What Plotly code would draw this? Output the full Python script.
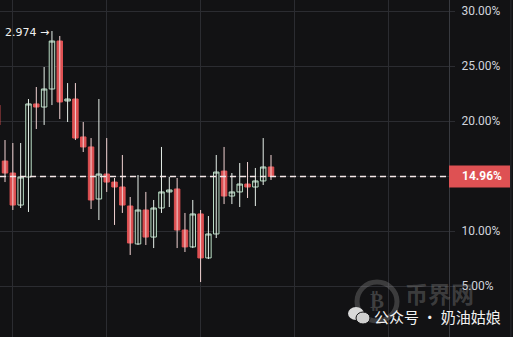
import plotly.graph_objects as go

# ---- data ----
x_idx = list(range(36))
open_ = [21.45, 16.36, 15.27, 12.36, 14.91, 21.55, 21.27, 22.91, 27.27, 21.82,
         22.00, 18.55, 17.64, 12.91, 15.18, 14.45, 14.00, 12.27, 8.82, 11.91,
         9.45, 12.09, 13.55, 13.82, 10.09, 8.55, 11.55, 7.55, 9.73, 15.45,
         13.18, 13.55, 14.27, 14.00, 14.55, 15.82]
high = [21.80, 18.27, 18.00, 18.00, 22.00, 23.09, 24.91, 28.18, 27.73, 23.45,
        23.45, 19.91, 18.45, 22.00, 18.45, 14.82, 16.91, 13.09, 15.09, 13.55,
        12.82, 17.64, 14.91, 14.82, 11.64, 12.82, 11.91, 11.36, 16.91, 17.64,
        15.27, 16.18, 16.27, 15.73, 18.45, 16.91]
low = [19.30, 14.45, 11.91, 12.09, 11.73, 19.27, 19.64, 21.45, 20.18, 19.91,
       18.27, 17.18, 12.00, 11.00, 13.55, 10.55, 11.64, 7.82, 8.73, 8.73,
       8.45, 11.64, 12.18, 8.45, 8.09, 8.45, 5.36, 7.45, 9.36, 12.45,
       12.45, 12.18, 13.00, 12.27, 14.18, 14.64]
close = [19.64, 15.27, 12.36, 14.91, 21.55, 21.27, 22.91, 27.27, 21.73, 22.00,
         18.45, 17.64, 12.82, 15.18, 14.45, 14.00, 12.36, 8.91, 11.91, 9.45,
         12.09, 13.55, 13.73, 10.09, 8.55, 11.55, 7.55, 9.73, 15.36, 13.18,
         13.55, 14.27, 14.00, 14.55, 15.82, 14.96]
y_ticks = [0, 5, 10, 15, 20, 25, 30]
peak_label = "2.974 →"
peak_idx = 7
wm_account = "公众号 · 奶油姑娘"
wm_site = "币界网"
wm_symbol = "₿"

# ---- styles ----
BG = "#121214"
GRID = "#2b2c31"
AXLINE = "#383a40"
RED = "#de5153"
GREEN_LINE = "#b9dcc5"
HOLLOW = "#131715"
TICKCOL = "#d1d4dc"
X_RANGE = [0.36, 57.75]
Y_RANGE = [0.364, 31.0]

last_price = close[-1]
body_hi = [max(o, c) for o, c in zip(open_, close)]
body_lo = [min(o, c) for o, c in zip(open_, close)]

fig = go.Figure()
# last-price dashed line (below candles)
fig.add_trace(go.Scatter(
    x=X_RANGE, y=[last_price, last_price], mode="lines",
    line=dict(color="#f4e6e6", width=1.5, dash="6px,4px"),
    hoverinfo="skip", showlegend=False))
# wicks
fig.add_trace(go.Ohlc(
    x=x_idx, open=open_, high=high, low=low, close=close, tickwidth=0,
    increasing=dict(line=dict(color="#e6efe9", width=1)),
    decreasing=dict(line=dict(color="#f1d2d2", width=1)),
    hoverinfo="skip", showlegend=False))
# bodies
fig.add_trace(go.Candlestick(
    x=x_idx, open=open_, high=body_hi, low=body_lo, close=close,
    increasing=dict(line=dict(color=GREEN_LINE, width=1), fillcolor=HOLLOW),
    decreasing=dict(line=dict(color=RED, width=1), fillcolor=RED),
    whiskerwidth=0, hoverinfo="skip", showlegend=False))

PLOT_W = 449.0
H = 337.0
right_edge = 510.0 / PLOT_W

shapes = [
    # last price label background
    dict(type="rect", xref="paper", x0=1.0, x1=right_edge, yref="y",
         y0=last_price - 1.0, y1=last_price + 1.0, fillcolor=RED, line=dict(width=0), layer="above"),
    # right edge line
    dict(type="line", xref="paper", x0=right_edge + 0.002, x1=right_edge + 0.002, yref="paper", y0=0, y1=1,
         line=dict(color="#2c2d32", width=1), layer="above"),
    # watermark logo ring
    dict(type="circle", xref="paper", yref="paper",
         x0=357 / PLOT_W, x1=397 / PLOT_W, y0=1 - 321 / H, y1=1 - 282 / H,
         line=dict(color="rgba(150,150,150,0.32)", width=5), layer="above"),
    # wechat icon
    dict(type="circle", xref="paper", yref="paper",
         x0=348 / PLOT_W, x1=364 / PLOT_W, y0=1 - 320 / H, y1=1 - 307 / H,
         fillcolor="#d9d9d9", line=dict(width=0), layer="above"),
    dict(type="circle", xref="paper", yref="paper",
         x0=356 / PLOT_W, x1=370 / PLOT_W, y0=1 - 324 / H, y1=1 - 312 / H,
         fillcolor="#cfcfcf", line=dict(color=BG, width=1), layer="above"),
]

annotations = [
    dict(text=f"<b>{last_price:.2f}%</b>", xref="paper", x=460 / PLOT_W, xanchor="left",
         yref="y", y=last_price, yanchor="middle", showarrow=False,
         font=dict(family="Roboto", size=12, color="#ffffff")),
    dict(text=peak_label, xref="x", x=peak_idx, xanchor="right", xshift=-1,
         yref="y", y=high[peak_idx], yanchor="middle", yshift=-1, showarrow=False,
         font=dict(family="DejaVu Sans", size=11, color="#f0f0f0")),
    dict(text=f"<b>{wm_symbol}</b>", xref="paper", x=377 / PLOT_W, xanchor="center",
         yref="paper", y=1 - 301 / H, yanchor="middle", showarrow=False,
         font=dict(family="DejaVu Sans", size=21, color="rgba(150,150,150,0.34)")),
    dict(text=f"<b>{wm_site}</b>", xref="paper", x=403 / PLOT_W, xanchor="left",
         yref="paper", y=1 - 293 / H, yanchor="middle", showarrow=False,
         font=dict(family="Noto Sans CJK SC", size=23, color="rgba(150,150,150,0.32)")),
    dict(text=wm_account, xref="paper", x=372 / PLOT_W, xanchor="left",
         yref="paper", y=1 - 316 / H, yanchor="middle", showarrow=False,
         font=dict(family="Noto Sans CJK SC", size=15, color="#f2f2f2")),
]

fig.update_layout(
    width=513, height=337,
    margin=dict(l=0, r=64, t=0, b=0),
    paper_bgcolor=BG, plot_bgcolor=BG,
    boxgap=0.3, boxgroupgap=0,
    showlegend=False,
    font=dict(family="Roboto", color=TICKCOL),
    xaxis=dict(range=X_RANGE, rangeslider=dict(visible=False),
               tickmode="linear", tick0=2, dtick=12, showticklabels=False, ticks="",
               showgrid=True, gridcolor=GRID, gridwidth=1, zeroline=False, showline=False),
    yaxis=dict(side="right", range=Y_RANGE, tickmode="array", tickvals=y_ticks,
               ticktext=[f"{v:.2f}%" for v in y_ticks],
               showgrid=True, gridcolor=GRID, gridwidth=1, zeroline=False,
               ticks="outside", ticklen=5, tickcolor=GRID,
               showline=True, linecolor=AXLINE, linewidth=1,
               tickfont=dict(family="Roboto", size=12, color=TICKCOL), ticklabelstandoff=4),
    shapes=shapes,
    annotations=annotations,
)

fig.write_html("out.html", config={"displayModeBar": False})
